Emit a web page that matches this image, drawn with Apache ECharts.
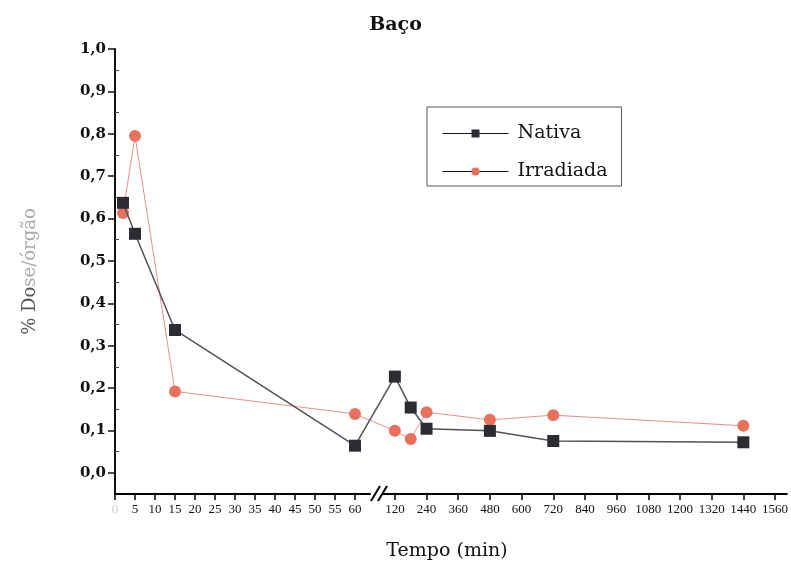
<!DOCTYPE html>
<html>
<head>
<meta charset="utf-8">
<script src="https://cdn.jsdelivr.net/npm/echarts@6/dist/echarts.min.js"></script>
<style>
  html, body { margin: 0; padding: 0; background: #fff; }
  #chart { width: 791px; height: 566px; }
</style>
</head>
<body>
<div id="chart"></div>
<script>
// Tempo de coleta (min) e % dose/órgão no baço
const tempos = [2, 5, 15, 60, 120, 180, 240, 480, 720, 1440];
const nativa = [0.637, 0.564, 0.337, 0.064, 0.227, 0.154, 0.104, 0.099, 0.075, 0.072];
const irradiada = [0.613, 0.795, 0.192, 0.139, 0.099, 0.080, 0.143, 0.125, 0.136, 0.111];

// Marcas do eixo X (dois trechos, com quebra entre 60 e 120) e do eixo Y
const ticksInicio = [0, 5, 10, 15, 20, 25, 30, 35, 40, 45, 50, 55, 60];
const ticksFim = [120, 240, 360, 480, 600, 720, 840, 960, 1080, 1200, 1320, 1440, 1560];
const ticksY = [0, 0.1, 0.2, 0.3, 0.4, 0.5, 0.6, 0.7, 0.8, 0.9, 1.0];
const ticksYMenores = [0.05, 0.15, 0.25, 0.35, 0.45, 0.55, 0.65, 0.75, 0.85, 0.95];

const FONTE = 'Liberation Serif';
const FONTE_LARGA = 'DejaVu Serif';
const COR_NATIVA = '#2c2c33';
const LINHA_NATIVA = '#4d525c';
const COR_IRRAD = '#e8705c';
const LINHA_IRRAD = '#ea8f88';

// Geometria dos dois trechos do eixo X
const topo = 49, base = 72;
const t1 = { left: 115, width: 255, min: 0, max: 63.75 };
const t2 = { left: 383, width: 404, min: 75, max: 1605 };
const corte = 64;  // tempos até aqui ficam no primeiro trecho
const px = (t, g) => g.left + (t - g.min) / (g.max - g.min) * g.width;

const idxUltimo = tempos.filter(t => t <= corte).length - 1;
const tA = tempos[idxUltimo], tB = tempos[idxUltimo + 1];
// grade auxiliar que liga o último ponto do 1º trecho ao primeiro do 2º
const tc = { left: px(tA, t1), width: px(tB, t2) - px(tA, t1) };

function pares(vals, ini, fim) {
  const out = [];
  for (let i = ini; i <= fim; i++) out.push([tempos[i], vals[i]]);
  return out;
}

const yRange = { min: -0.05, max: 1.0 };
const yOculto = (gi) => ({
  type: 'value', gridIndex: gi, ...yRange,
  axisLine: { show: false }, axisTick: { show: false },
  axisLabel: { show: false }, splitLine: { show: false }
});

function series(nome, vals, sym, size, corMarca, corLinha, largura, z) {
  const comum = {
    name: nome, type: 'line', symbol: sym, symbolSize: size, z: z,
    itemStyle: { color: corMarca, opacity: 1 },
    lineStyle: { color: corLinha, width: largura },
    emphasis: { disabled: true }
  };
  return [
    { ...comum, xAxisIndex: 0, yAxisIndex: 0, data: pares(vals, 0, idxUltimo) },
    { ...comum, xAxisIndex: 2, yAxisIndex: 3, symbol: 'none', z: z - 1,
      data: pares(vals, idxUltimo, idxUltimo + 1) },
    { ...comum, xAxisIndex: 1, yAxisIndex: 2, data: pares(vals, idxUltimo + 1, tempos.length - 1) }
  ];
}

const eixoX = (g, gi, ticks, extra) => ({
  type: 'value', gridIndex: gi, min: g.min, max: g.max,
  axisLine: { show: true, onZero: false, lineStyle: { color: '#000', width: 2 } },
  axisTick: { show: true, inside: false, length: 6, customValues: ticks, lineStyle: { color: '#000', width: 1.5 } },
  axisLabel: Object.assign({
    customValues: ticks, margin: 9, fontFamily: FONTE, fontSize: 13, color: '#111',
    showMinLabel: true, showMaxLabel: true,
    formatter: v => String(v)
  }, extra || {}),
  splitLine: { show: false }
});

const chart = echarts.init(document.getElementById('chart'), null, { renderer: 'canvas' });
chart.setOption({
  animation: false,
  backgroundColor: '#fff',
  title: {
    text: 'Baço', left: 'center', top: 11,
    textStyle: { fontFamily: FONTE_LARGA, fontWeight: 'bold', fontSize: 19, color: '#111' }
  },
  legend: {
    data: ['Nativa', 'Irradiada'],
    orient: 'vertical', left: 427, top: 107,
    borderColor: '#555', borderWidth: 1,
    padding: [17, 14, 5, 15],
    itemWidth: 66, itemHeight: 10, itemGap: 19,
    lineStyle: { color: '#111', width: 1 },
    textStyle: { fontFamily: FONTE_LARGA, fontSize: 19, color: '#111', padding: [0, 0, 0, 4] },
    selectedMode: false
  },
  grid: [
    { left: t1.left, width: t1.width, top: topo, bottom: base },
    { left: t2.left, width: t2.width, top: topo, bottom: base },
    { left: tc.left, width: tc.width, top: topo, bottom: base }
  ],
  xAxis: [
    eixoX(t1, 0, ticksInicio, {
      formatter: v => v === 0 ? '{f|0}' : String(v),
      rich: { f: { color: '#c8c8c8', fontFamily: FONTE, fontSize: 13 } }
    }),
    eixoX(t2, 1, ticksFim),
    { type: 'value', gridIndex: 2, min: tA, max: tB, show: false }
  ],
  yAxis: [
    {
      type: 'value', gridIndex: 0, ...yRange,
      name: '{a|% Do}{b|se/órgão}', nameLocation: 'middle', nameGap: 76, nameRotate: 90,
      nameTextStyle: {
        rich: {
          a: { fontFamily: FONTE_LARGA, fontSize: 18, color: '#555' },
          b: { fontFamily: FONTE_LARGA, fontSize: 18, color: '#aaa' }
        }
      },
      axisLine: { show: true, onZero: false, lineStyle: { color: '#111', width: 2 } },
      axisTick: { show: true, length: 7, customValues: ticksY, lineStyle: { color: '#111', width: 1.5 } },
      axisLabel: {
        customValues: ticksY, margin: 9, fontFamily: FONTE_LARGA, fontSize: 15, fontWeight: 'bold', color: '#111',
        formatter: v => v.toFixed(1).replace('.', ',')
      },
      splitLine: { show: false }
    },
    {
      type: 'value', gridIndex: 0, ...yRange,
      axisLine: { show: false },
      axisTick: { show: true, length: 4, customValues: ticksYMenores, lineStyle: { color: '#444', width: 1 } },
      axisLabel: { show: false }, splitLine: { show: false }
    },
    yOculto(1),
    yOculto(2)
  ],
  graphic: [
    // marca de quebra do eixo X
    { type: 'line', shape: { x1: 371, y1: 501, x2: 380, y2: 486 }, style: { stroke: '#000', lineWidth: 2 } },
    { type: 'line', shape: { x1: 378, y1: 501, x2: 387, y2: 486 }, style: { stroke: '#000', lineWidth: 2 } },
    {
      type: 'text', x: 447, y: 551,
      style: { text: 'Tempo (min)', fontFamily: FONTE_LARGA, fontSize: 19, fill: '#111', align: 'center', verticalAlign: 'middle' }
    }
  ],
  series: [
    ...series('Irradiada', irradiada, 'circle', 12, COR_IRRAD, LINHA_IRRAD, 1, 3),
    ...series('Nativa', nativa, 'rect', 12, COR_NATIVA, LINHA_NATIVA, 1.5, 5)
  ]
});
</script>
</body>
</html>
